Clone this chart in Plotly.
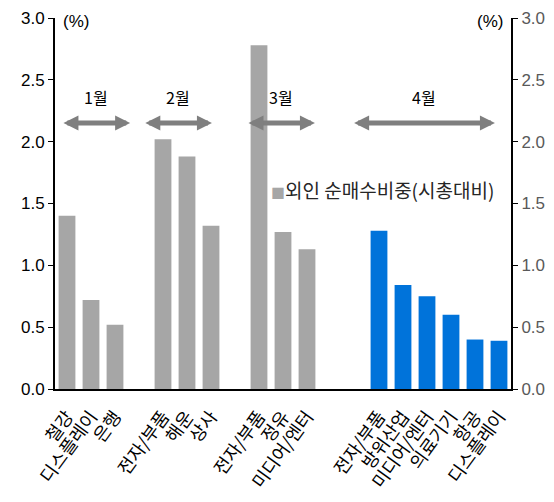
import plotly.graph_objects as go

# Data
slots_gray = [0, 1, 2, 4, 5, 6, 8, 9, 10]
labels_gray = ["철강", "디스플레이", "은행", "전자/부품", "해운", "상사", "전자/부품", "정유", "미디어/엔터"]
values_gray = [1.40, 0.72, 0.52, 2.02, 1.88, 1.32, 2.78, 1.27, 1.13]

slots_blue = [13, 14, 15, 16, 17, 18]
labels_blue = ["전자/부품", "방위산업", "미디어/엔터", "의료기기", "항공", "디스플레이"]
values_blue = [1.28, 0.84, 0.75, 0.60, 0.40, 0.39]

months = ["1월", "2월", "3월", "4월"]
month_start = [-0.21, 3.2, 7.5, 11.9]
month_end = [2.63, 6.04, 10.33, 17.83]
arrow_y = 2.15
month_label_y = 2.36

series_name = "외인 순매수비중(시총대비)"
y_ticks = [0, 0.5, 1.0, 1.5, 2.0, 2.5, 3.0]

GRAY = "#A6A6A6"
BLUE = "#0073DA"
ARROW = "#7F7F7F"
NUM_FONT = "Liberation Sans, Arial, sans-serif"
KR_FONT = "Noto Sans CJK KR, sans-serif"

fig = go.Figure()
fig.add_trace(go.Bar(x=slots_gray, y=values_gray, width=0.7, marker_color=GRAY,
                     marker_line_width=0, name=series_name, showlegend=False))
fig.add_trace(go.Bar(x=slots_blue, y=values_blue, width=0.7, marker_color=BLUE,
                     marker_line_width=0, showlegend=False, yaxis="y2"))

annotations = []
for m, s, e in zip(months, month_start, month_end):
    annotations.append(dict(x=e, y=arrow_y, ax=s, ay=arrow_y, xref="x", yref="y",
                            axref="x", ayref="y", showarrow=True, text="",
                            arrowhead=2, startarrowhead=2, arrowside="end+start",
                            arrowwidth=5, arrowsize=0.6, startarrowsize=0.6,
                            arrowcolor=ARROW))
    annotations.append(dict(x=(s + e) / 2, y=month_label_y, xref="x", yref="y",
                            text=m, showarrow=False,
                            font=dict(family=KR_FONT, size=16, color="#000000")))

annotations.append(dict(x=0.47, y=0.537, xref="paper", yref="paper", xanchor="left",
                        yanchor="middle", showarrow=False,
                        text=f"<span style='color:{GRAY};font-size:14px'>■</span>{series_name}",
                        font=dict(family=KR_FONT, size=19, color="#262626")))
annotations.append(dict(x=0.046, y=0.99, xref="paper", yref="paper", xanchor="center",
                        yanchor="middle", showarrow=False, text="(%)",
                        font=dict(family=NUM_FONT, size=17, color="#000000")))
annotations.append(dict(x=0.953, y=0.99, xref="paper", yref="paper", xanchor="center",
                        yanchor="middle", showarrow=False, text="(%)",
                        font=dict(family=NUM_FONT, size=17, color="#000000")))

fig.update_layout(
    width=546, height=494,
    margin=dict(l=47, r=43, t=10, b=113),
    plot_bgcolor="white", paper_bgcolor="white",
    barmode="overlay",
    showlegend=False,
    xaxis=dict(range=[-0.5, 18.5], tickvals=slots_gray + slots_blue,
               ticktext=labels_gray + labels_blue, tickangle=-54,
               tickfont=dict(family=KR_FONT, size=18, color="#000000"),
               ticklabelstandoff=8,
               showline=True, linecolor="black", linewidth=2, ticks="",
               showgrid=False, zeroline=False, automargin=False),
    yaxis=dict(range=[0, 3], tickvals=y_ticks, ticktext=[f"{v:.1f}" for v in y_ticks],
               showline=True, linecolor="black", linewidth=2, ticks="outside",
               ticklen=5, tickcolor="black", tickwidth=1, showgrid=False, zeroline=False,
               automargin=False,
               tickfont=dict(family=NUM_FONT, size=17, color="#000000")),
    yaxis2=dict(range=[0, 3], overlaying="y", side="right", tickvals=y_ticks,
                ticktext=[f"{v:.1f}" for v in y_ticks],
                showline=True, linecolor="black", linewidth=2, ticks="outside",
                ticklen=5, tickcolor="black", tickwidth=1, showgrid=False, zeroline=False,
                automargin=False,
                tickfont=dict(family=NUM_FONT, size=17, color="#595959")),
    annotations=annotations,
)

fig.write_html("out.html")
